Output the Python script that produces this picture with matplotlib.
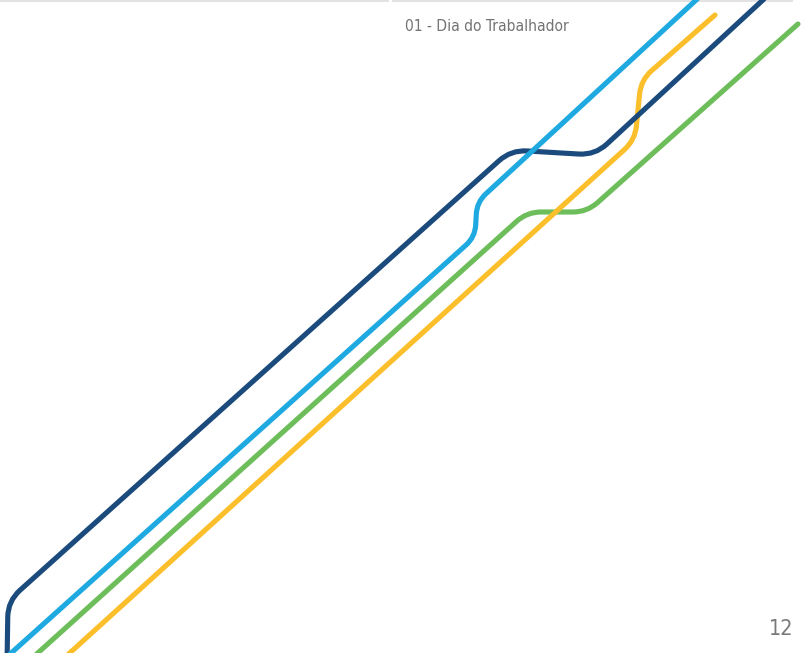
import matplotlib
matplotlib.use("Agg")
import matplotlib.pyplot as plt
import numpy as np
from matplotlib.path import Path
from matplotlib.patches import PathPatch, Rectangle

W, H = 803, 653

# Decorative line routes (pixel coordinates, y down): corner vertices
navy_x = [7, 8, 511, 595, 790]
navy_y = [665, 601, 150, 155, -25]
blue_x = [0, 475, 477, 720]
blue_y = [663, 237, 202, -22]
green_x = [30, 527, 587, 798]
green_y = [660, 212, 212, 24]
yellow_x = [62, 635, 641, 715]
yellow_y = [660, 140, 80, 15]

title_text = "01 - Dia do Trabalhador"
page_text = "12"

colors = {"navy": "#1b4a7c", "blue": "#1ea9e1", "green": "#6dbe5b", "yellow": "#fbbf2b"}


def rounded_path(xs, ys, r):
    pts = np.column_stack([xs, ys]).astype(float)
    verts = [tuple(pts[0])]
    codes = [Path.MOVETO]
    for i in range(1, len(pts) - 1):
        a, p, b = pts[i - 1], pts[i], pts[i + 1]
        da = (a - p) / np.linalg.norm(a - p)
        db = (b - p) / np.linalg.norm(b - p)
        rr = min(r, np.linalg.norm(a - p) / 2, np.linalg.norm(b - p) / 2)
        p1 = p + rr * da
        p2 = p + rr * db
        verts += [tuple(p1), tuple(p), tuple(p2)]
        codes += [Path.LINETO, Path.CURVE3, Path.CURVE3]
    verts.append(tuple(pts[-1]))
    codes.append(Path.LINETO)
    return Path(verts, codes)


fig = plt.figure(figsize=(W / 100, H / 100), dpi=100)
ax = fig.add_axes([0, 0, 1, 1])
ax.set_xlim(0, W)
ax.set_ylim(H, 0)
ax.axis("off")

lw = 3.7
for (xs, ys, c, r, z) in [
    (green_x, green_y, colors["green"], 14, 2),
    (yellow_x, yellow_y, colors["yellow"], 14, 3),
    (navy_x, navy_y, colors["navy"], 16, 4),
    (blue_x, blue_y, colors["blue"], 12, 5),
]:
    patch = PathPatch(rounded_path(xs, ys, r), facecolor="none", edgecolor=c,
                      lw=lw, capstyle="round", joinstyle="round", zorder=z)
    ax.add_patch(patch)

# thin top band
ax.add_patch(Rectangle((0, 0), 389, 2, facecolor="#e2e2e2", edgecolor="none", zorder=1))
ax.add_patch(Rectangle((392, 0), 401, 2, facecolor="#e2e2e2", edgecolor="none", zorder=1))

fam = ["DejaVu Sans"]
ax.text(405, 31, title_text, fontsize=11.2, color="#737373", family=fam,
        fontstretch="condensed", ha="left", va="baseline", zorder=10)
ax.text(793, 635, page_text, fontsize=15.5, color="#7a7a7a", family=fam,
        fontstretch="condensed", ha="right", va="baseline", zorder=10)

fig.savefig("out.png", dpi=100)
